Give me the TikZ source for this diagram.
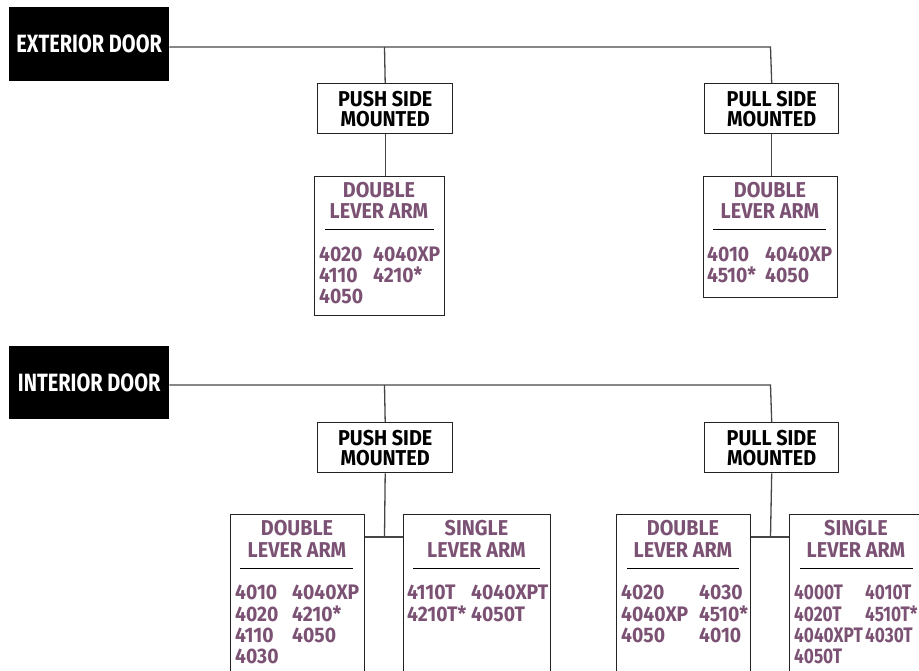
\documentclass[tikz,border=0pt]{standalone}
\usepackage{fontspec}
\newfontfamily\ford{Fira Sans}[FakeStretch=0.8]
\newfontfamily\fordw{Fira Sans}[FakeStretch=0.92]
\newfontfamily\fordn{Fira Sans}[FakeStretch=0.82]
\definecolor{arm}{RGB}{124,82,116}
\definecolor{linegray}{RGB}{70,70,70}
\definecolor{boxline}{RGB}{35,35,35}
\tikzset{
  door/.style={fill=black, draw=none, text=white, inner sep=0pt, anchor=north west,
    font=\ford\bfseries\fontsize{25}{25}\selectfont},
  mount/.style={draw=boxline, line width=1.4pt, fill=white, inner sep=0pt, anchor=north west,
    align=center, font=\fordw\bfseries\fontsize{21.5}{20}\selectfont},
  armbox/.style={draw=boxline, line width=1.4pt, fill=white, inner sep=0pt, anchor=north west},
  armtitle/.style={text=arm, inner sep=0pt, anchor=base, font=\fordw\bfseries\fontsize{21.5}{20}\selectfont},
  code/.style={text=arm, inner sep=0pt, anchor=base west, font=\fordw\bfseries\fontsize{21}{21}\selectfont},
  codenarrow/.style={code, font=\fordn\bfseries\fontsize{21}{21}\selectfont},
  conn/.style={draw=linegray, line width=1.3pt},
  rulel/.style={draw=black, line width=1pt}
}
\begin{document}
\begin{tikzpicture}[x=1pt,y=-1pt]
\useasboundingbox (0,0) rectangle (919,670);
\clip (0,0) rectangle (919,670);
% ---------------- EXTERIOR ----------------
\node[door, minimum width=160pt, minimum height=74pt] (ext) at (9,7) {EXTERIOR DOOR};
\node[mount, minimum width=135pt, minimum height=50pt] (epush) at (317,83) {PUSH SIDE\\MOUNTED};
\node[mount, minimum width=134pt, minimum height=50pt] (epull) at (704,83) {PULL SIDE\\MOUNTED};
\coordinate (ej1) at (384.5,47);
\coordinate (ej2) at (770.5,47);
\draw[conn] (ext.east |- ej1) -- (ej2) -- (epull.north);
\draw[conn] (ej1) -- (epush.north);
\node[armbox, minimum width=130pt, minimum height=139pt] (epd) at (314,176) {};
\node[armbox, minimum width=134pt, minimum height=121pt] (eld) at (703,176) {};
\draw[conn] (epush.south) -- (epd.north -| epush.south);
\draw[conn] (epull.south) -- (eld.north -| epull.south);
% titles
\node[armtitle] (t1a) at (379,197) {DOUBLE};
\node[armtitle] (t1b) at (379,218.5) {LEVER ARM};
\draw[rulel] (325,229) -- (434,229);
\node[code] (c1a) at (319,261) {4020};
\node[code] (c1b) at (319,282) {4110};
\node[code] (c1c) at (319,303) {4050};
\node[code] (c1d) at (373,261) {4040XP};
\node[code] (c1e) at (373,282) {4210*};
\node[armtitle] (t2a) at (770,197) {DOUBLE};
\node[armtitle] (t2b) at (770,218.5) {LEVER ARM};
\draw[rulel] (713,229) -- (826,229);
\node[code] (c2a) at (707,261) {4010};
\node[code] (c2b) at (707,282) {4510*};
\node[code] (c2c) at (765,261) {4040XP};
\node[code] (c2d) at (765,282) {4050};
% ---------------- INTERIOR ----------------
\node[door, minimum width=160pt, minimum height=73pt] (int) at (9,346) {INTERIOR DOOR};
\node[mount, minimum width=135pt, minimum height=50pt] (ipush) at (317,422) {PUSH SIDE\\MOUNTED};
\node[mount, minimum width=134pt, minimum height=50pt] (ipull) at (704,422) {PULL SIDE\\MOUNTED};
\coordinate (ij1) at (384.5,385);
\coordinate (ij2) at (770.5,385);
\draw[conn] (int.east |- ij1) -- (ij2) -- (ipull.north);
\draw[conn] (ij1) -- (ipush.north);
\node[armbox, minimum width=134pt, minimum height=200pt] (ipd) at (230,514) {};
\node[armbox, minimum width=147pt, minimum height=200pt] (ips) at (403,514) {};
\node[armbox, minimum width=134pt, minimum height=200pt] (ild) at (616,514) {};
\node[armbox, minimum width=134pt, minimum height=200pt] (ils) at (789,514) {};
\coordinate (ij3) at (384.5,537);
\coordinate (ij4) at (770.5,537);
\draw[conn] (ipush.south) -- (ij3);
\draw[conn] (ipd.east |- ij3) -- (ips.west |- ij3);
\draw[conn] (ipull.south) -- (ij4);
\draw[conn] (ild.east |- ij4) -- (ils.west |- ij4);
% push double
\node[armtitle] (t3a) at (297,535) {DOUBLE};
\node[armtitle] (t3b) at (297,557) {LEVER ARM};
\draw[rulel] (240,568) -- (353,568);
\node[code] (c3a) at (235,599) {4010};
\node[code] (c3b) at (235,621) {4020};
\node[code] (c3c) at (235,642) {4110};
\node[code] (c3d) at (235,663) {4030};
\node[code] (c3e) at (292,599) {4040XP};
\node[code] (c3f) at (292,621) {4210*};
\node[code] (c3g) at (292,642) {4050};
% push single
\node[armtitle] (t4a) at (476.5,535) {SINGLE};
\node[armtitle] (t4b) at (476.5,557) {LEVER ARM};
\draw[rulel] (413,568) -- (540,568);
\node[code] (c4a) at (407,599) {4110T};
\node[code] (c4b) at (407,621) {4210T*};
\node[code] (c4c) at (471,599) {4040XPT};
\node[code] (c4d) at (471,621) {4050T};
% pull double
\node[armtitle] (t5a) at (683,535) {DOUBLE};
\node[armtitle] (t5b) at (683,557) {LEVER ARM};
\draw[rulel] (627,568) -- (739,568);
\node[code] (c5a) at (621,599) {4020};
\node[code] (c5b) at (621,621) {4040XP};
\node[code] (c5c) at (621,642) {4050};
\node[code] (c5d) at (699,599) {4030};
\node[code] (c5e) at (699,621) {4510*};
\node[code] (c5f) at (699,642) {4010};
% pull single
\node[armtitle] (t6a) at (856,535) {SINGLE};
\node[armtitle] (t6b) at (856,557) {LEVER ARM};
\draw[rulel] (800,568) -- (913,568);
\node[codenarrow] (c6a) at (794,599) {4000T};
\node[codenarrow] (c6b) at (794,621) {4020T};
\node[codenarrow] (c6c) at (794,642) {4040XPT};
\node[codenarrow] (c6d) at (794,663) {4050T};
\node[codenarrow] (c6e) at (865,599) {4010T};
\node[codenarrow] (c6f) at (865,621) {4510T*};
\node[codenarrow] (c6g) at (865,642) {4030T};
\end{tikzpicture}
\end{document}
